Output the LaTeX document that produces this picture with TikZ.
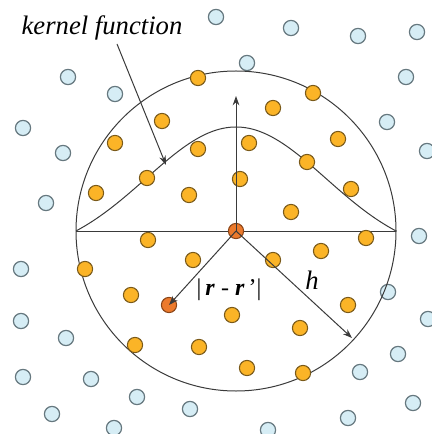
\documentclass[tikz,border=0pt]{standalone}
\usepackage{fontspec}
\setmainfont{Liberation Serif}
\usetikzlibrary{arrows.meta}
\definecolor{bluefill}{HTML}{D6EDF5}
\definecolor{blueedge}{HTML}{66787F}
\definecolor{orfill}{HTML}{FBB427}
\definecolor{oredge}{HTML}{7A5A1A}
\definecolor{redfill}{HTML}{EC7A2C}
\definecolor{rededge}{HTML}{8A4518}
\definecolor{ln}{HTML}{3A3A3A}
\tikzset{
  bdot/.style={circle,draw=blueedge,fill=bluefill,line width=0.9pt,minimum size=11.4pt,inner sep=0pt},
  odot/.style={circle,draw=oredge,fill=orfill,line width=0.8pt,minimum size=11.4pt,inner sep=0pt},
  rdot/.style={circle,draw=rededge,fill=redfill,line width=0.8pt,minimum size=11.4pt,inner sep=0pt},
  thinline/.style={draw=ln,line width=0.75pt},
  arr/.style={thinline,-{Stealth[length=7pt,width=5pt]}},
  lbl/.style={inner sep=0pt,font=\fontsize{18}{20}\selectfont}
}
\begin{document}
\begin{tikzpicture}[x=0.75pt,y=-0.75pt]
\useasboundingbox (0,0) rectangle (431,434);
% blue dots
\foreach \p [count=\i] in {(216,17),(291,28),(358,36),(417,32),(247,63),(68,77),(115,94),(406,77),(23,128),(63,153),(387,122),(46,203),(427,151),(419,236),(388,292),(428,319),(398,354),(360,372),(413,403),(348,418),(268,430),(190,409),(114,428),(21,269),(21,321),(66,338),(23,377),(91,379),(137,397),(52,414)}
  \node[bdot] (b\i) at \p {};
% big circle, line, kernel
\node[circle,draw=ln,line width=0.75pt,minimum size=240pt,inner sep=0pt] (big) at (236,231) {};
\coordinate (hl) at (76,231);
\coordinate (hr) at (396,231);
\draw[thinline] (hl) -- (hr);
\draw[thinline] plot[domain=-16:16,samples=97,smooth] ({236+10*\x},{231-104*(exp(-\x*\x/162)-0.2057)/0.7943});
% orange dots
\foreach \p [count=\i] in {(198,78),(313,93),(273,108),(162,121),(115,143),(198,149),(249,143),(338,139),(307,162),(240,179),(351,189),(291,212),(147,178),(96,193),(189,195),(148,240),(193,260),(85,269),(131,295),(135,345),(199,347),(366,238),(321,251),(273,260),(348,305),(300,328),(232,315),(247,368),(303,373)}
  \node[odot] (o\i) at \p {};
% red dots
\node[rdot] (c) at (236,231) {};
\node[rdot] (rp) at (169,305) {};
% arrows
\coordinate (vtop) at (236,96);
\coordinate (hend) at (352,338);
\draw[arr] (c.center) -- (vtop);
\draw[arr] (c.center) -- (rp.center);
\draw[arr] (c.center) -- (hend);
% labels
\node[inner sep=0pt,font=\fontsize{20}{24}\selectfont\itshape] (kl) at (102,28) {kernel function};
\coordinate (kstart) at (117,44);
\coordinate (ktip) at (166,165);
\draw[arr] (kstart) -- (ktip);
\node[lbl] (dist) at (229,290) {\textbar\,\textbf{\textit{r}} - \textbf{\textit{r}}\,’\textbar};
\node[lbl,font=\fontsize{20}{24}\selectfont\itshape] (h) at (312,280) {h};
\end{tikzpicture}
\end{document}
